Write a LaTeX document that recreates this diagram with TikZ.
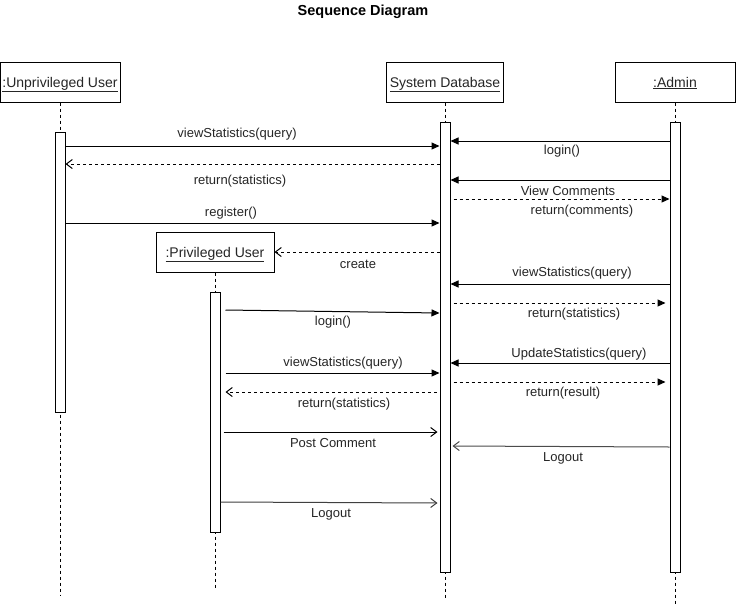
\documentclass[tikz,border=0pt]{standalone}
\usepackage{fontspec}
\setmainfont{Liberation Sans}
\usetikzlibrary{arrows.meta,calc}
\begin{document}
\begin{tikzpicture}[x=1pt,y=-1pt,
  font=\fontsize{13}{15}\selectfont,
  obj/.style={draw,line width=1pt,fill=white,inner sep=0pt,minimum height=40pt,font=\fontsize{14}{16}\selectfont,text=black!85,text height=10pt,text depth=0pt},
  act/.style={draw,line width=1pt,fill=white,minimum width=10pt,inner sep=0pt},
  life/.style={line width=0.8pt,dash pattern=on 3pt off 3pt},
  msg/.style={line width=1pt,-{Triangle[length=8pt,width=7pt]}},
  rmsg/.style={line width=1pt,dash pattern=on 3pt off 3pt,-{Triangle[length=8pt,width=7pt]}},
  ret/.style={line width=1pt,dash pattern=on 3pt off 3pt,-{Straight Barb[length=6pt,width=9pt]}},
  omsg/.style={line width=1pt,-{Straight Barb[length=6pt,width=9pt]}},
  lbl/.style={inner sep=0pt,text=black!85,yshift=-1.5pt}
]
\useasboundingbox[fill=white] (0,0) rectangle (736,608);
\node[font=\fontsize{14.5}{16}\selectfont\bfseries] (title) at (363,12) {Sequence Diagram};
% objects
\node[obj,minimum width=120pt] (u) at (60,82) {\underline{:Unprivileged User}};
\node[obj,minimum width=117pt] (db) at (445,82) {\underline{System Database}};
\node[obj,minimum width=120pt] (ad) at (675,82) {\underline{:Admin}};
\node[obj,minimum width=118pt] (pu) at (215,252) {\underline{:Privileged User}};
% lifeline ends
\coordinate (uEnd) at (60,595);
\coordinate (dbEnd) at (445,600);
\coordinate (adEnd) at (675,605);
\coordinate (puEnd) at (215,590);
\draw[life] (u.south) -- (uEnd);
\draw[life] (db.south) -- (dbEnd);
\draw[life] (ad.south) -- (adEnd);
\draw[life] (pu.south) -- (puEnd);
% activations
\node[act,minimum height=280pt] (ua) at (60,272) {};
\node[act,minimum height=450pt] (dba) at (445,347) {};
\node[act,minimum height=450pt] (ada) at (675,347) {};
\node[act,minimum height=240pt] (pua) at (215,412) {};
% Unprivileged user messages
\draw[msg] (ua.east |- 0,146) -- (dba.west |- 0,146);
\node[lbl] (l1) at (237,133) {viewStatistics(query)};
\draw[ret] (dba.west |- 0,164) -- (ua.east |- 0,164);
\node[lbl] (l2) at (240,180) {return(statistics)};
\draw[msg] (ua.east |- 0,223) -- (dba.west |- 0,223);
\node[lbl] (l3) at (231,212) {register()};
\draw[ret] (dba.west |- 0,252) -- (pu.east |- 0,252);
\node[lbl] (l4) at (358,263) {create};
% Admin messages
\draw[msg] (ada.west |- 0,141) -- (dba.east |- 0,141);
\node[lbl] (l5) at (562,150) {login()};
\draw[msg] (ada.west |- 0,180) -- (dba.east |- 0,180);
\node[lbl] (l6) at (568,189) {View Comments};
\draw[rmsg] ($(dba.east |- 0,199)+(3,0)$) -- (ada.west |- 0,199);
\node[lbl] (l7) at (582,210) {return(comments)};
\draw[msg] (ada.west |- 0,284) -- (dba.east |- 0,284);
\node[lbl] (l8) at (572,272) {viewStatistics(query)};
\draw[rmsg] ($(dba.east |- 0,303)+(3,0)$) -- ($(ada.west |- 0,303)+(-4,0)$);
\node[lbl] (l9) at (574,313) {return(statistics)};
\draw[msg] (ada.west |- 0,363) -- (dba.east |- 0,363);
\node[lbl] (l10) at (579,353) {UpdateStatistics(query)};
\draw[rmsg] ($(dba.east |- 0,382)+(3,0)$) -- ($(ada.west |- 0,382)+(-4,0)$);
\node[lbl] (l11) at (563,392) {return(result)};
\draw[omsg,draw=black!70] (ada.west |- 0,447) -- ($(dba.east |- 0,446)+(2,0)$);
\node[lbl] (l12) at (563,457) {Logout};
% Privileged user messages
\draw[msg] ($(pua.east |- 0,310)+(5,0)$) -- (dba.west |- 0,313);
\node[lbl] (l13) at (333,321) {login()};
\draw[msg] ($(pua.east |- 0,373)+(5,0)$) -- (dba.west |- 0,373);
\node[lbl] (l14) at (343,362) {viewStatistics(query)};
\draw[ret] ($(dba.west |- 0,392)+(-3,0)$) -- ($(pua.east |- 0,392)+(5,0)$);
\node[lbl] (l15) at (344,403) {return(statistics)};
\draw[omsg] ($(pua.east |- 0,432)+(3,0)$) -- ($(dba.west |- 0,432)+(-2,0)$);
\node[lbl] (l16) at (333,442) {Post Comment};
\draw[omsg,draw=black!75] (pua.east |- 0,502) -- ($(dba.west |- 0,503)+(-2,0)$);
\node[lbl] (l17) at (331,513) {Logout};
\end{tikzpicture}
\end{document}
